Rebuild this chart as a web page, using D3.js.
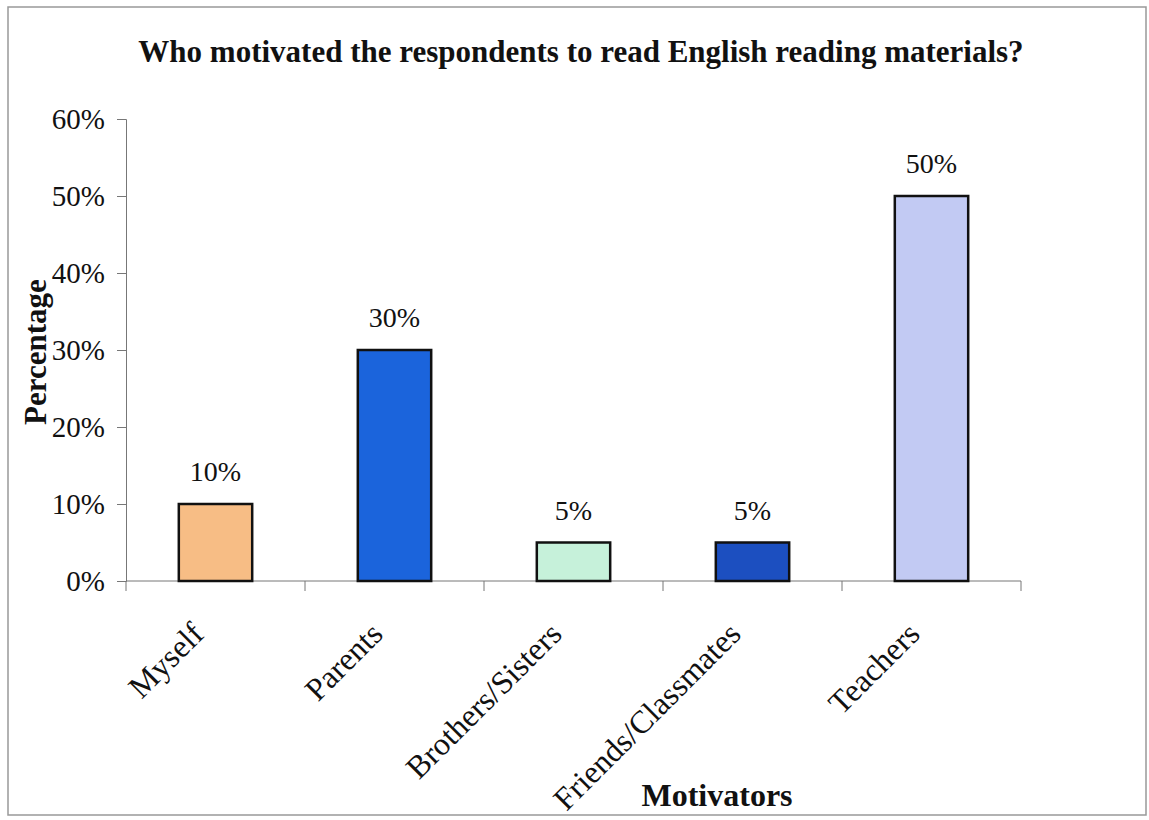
<!DOCTYPE html>
<html>
<head>
<meta charset="utf-8">
<script src="https://cdn.jsdelivr.net/npm/d3@7"></script>
<style>
  body { margin: 0; background: #fff; }
  text { font-family: "Liberation Serif", "Times New Roman", serif; fill: #111; }
</style>
</head>
<body>
<svg class="chart"></svg>
<script>
var categories = ['Myself', 'Parents', 'Brothers/Sisters', 'Friends/Classmates', 'Teachers'];
var values = [10, 30, 5, 5, 50];
var colors = ['#f7bd85', '#1b64dc', '#c6f1da', '#1c4fc0', '#c2caf3'];
var yTicks = [0, 10, 20, 30, 40, 50, 60];

var width = 1149, height = 820;
var margin = { top: 119, right: 128, bottom: 239, left: 126 };

var svg = d3.select('.chart')
    .attr('width', width)
    .attr('height', height);

// outer frame
svg.append('rect')
    .attr('x', 8).attr('y', 7)
    .attr('width', 1138).attr('height', 808)
    .attr('fill', 'none')
    .attr('stroke', '#999')
    .attr('stroke-width', 1.5);

var chart = svg.append('g')
    .attr('transform', `translate(${margin.left}, ${margin.top})`);

var w = width - margin.left - margin.right;
var h = height - margin.top - margin.bottom;

var x = d3.scaleBand()
    .domain(categories)
    .range([0, w]);

var y = d3.scaleLinear()
    .domain([0, 60])
    .range([h, 0]);

// y axis
var yAxis = chart.append('g')
    .call(d3.axisLeft(y).tickValues(yTicks).tickSize(9).tickPadding(12)
        .tickFormat(function(d) { return d + '%'; }));
yAxis.selectAll('text').attr('font-size', 29).style('font-family', '"Liberation Serif", serif').attr('fill', '#111');
yAxis.selectAll('line, path').attr('stroke', '#777');

// x axis: ticks at category boundaries
var xAxis = chart.append('g')
    .attr('transform', `translate(0, ${h})`);
xAxis.append('line')
    .attr('x1', 0).attr('x2', w)
    .attr('stroke', '#777');
xAxis.selectAll('.tick')
    .data(categories.concat(['end']))
  .enter().append('line')
    .attr('x1', function(d, i) { return i * x.step(); })
    .attr('x2', function(d, i) { return i * x.step(); })
    .attr('y1', 0).attr('y2', 10)
    .attr('stroke', '#777');

var barW = x.step() * 0.41;

var bars = chart.selectAll('.bar')
    .data(values)
  .enter().append('g')
    .attr('class', 'bar');

bars.append('rect')
    .attr('x', function(d, i) { return x(categories[i]) + (x.bandwidth() - barW) / 2; })
    .attr('y', function(d) { return y(d); })
    .attr('width', barW)
    .attr('height', function(d) { return h - y(d); })
    .attr('fill', function(d, i) { return colors[i]; })
    .attr('stroke', '#111')
    .attr('stroke-width', 2.5);

bars.append('text')
    .attr('x', function(d, i) { return x(categories[i]) + x.bandwidth() / 2; })
    .attr('y', function(d) { return y(d) - 23; })
    .attr('text-anchor', 'middle')
    .attr('font-size', 28)
    .text(function(d) { return d + '%'; });

// rotated category labels
chart.selectAll('.cat')
    .data(categories)
  .enter().append('text')
    .attr('class', 'cat')
    .attr('text-anchor', 'end')
    .attr('font-size', 32)
    .attr('transform', function(d) {
        return `translate(${x(d) + x.bandwidth() / 2 - 10}, ${h + 55}) rotate(-45)`;
    })
    .text(function(d) { return d; });

// titles
svg.append('text')
    .attr('x', 581).attr('y', 62)
    .attr('text-anchor', 'middle')
    .attr('font-size', 31)
    .attr('font-weight', 'bold')
    .text('Who motivated the respondents to read English reading materials?');

svg.append('text')
    .attr('transform', 'translate(46, 352) rotate(-90)')
    .attr('text-anchor', 'middle')
    .attr('font-size', 31)
    .attr('font-weight', 'bold')
    .text('Percentage');

svg.append('text')
    .attr('x', 717).attr('y', 806)
    .attr('text-anchor', 'middle')
    .attr('font-size', 32)
    .attr('font-weight', 'bold')
    .text('Motivators');
</script>
</body>
</html>
